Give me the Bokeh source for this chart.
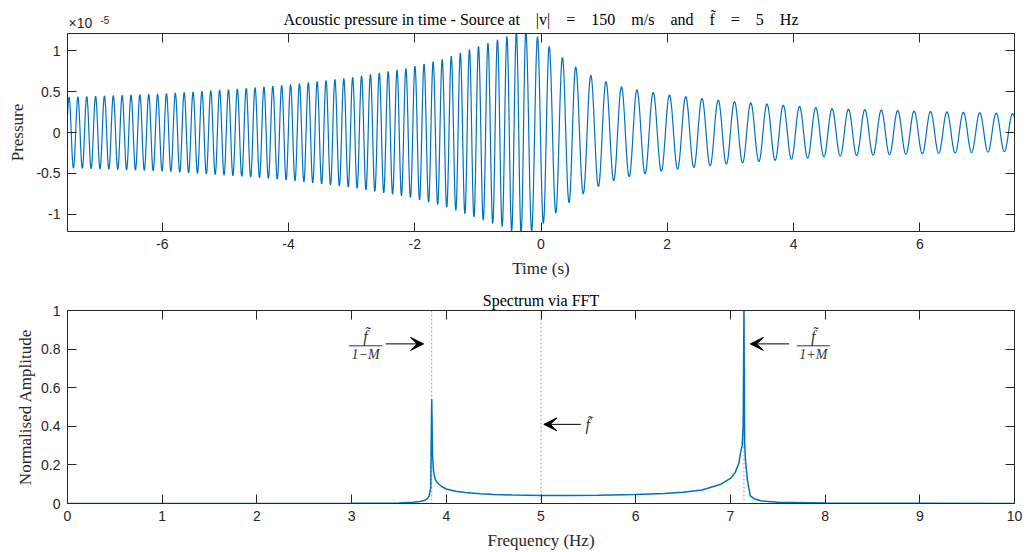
import numpy as np
from bokeh.plotting import figure
from bokeh.layouts import column
from bokeh.models import (Range1d, FixedTicker, LinearAxis, Label, Span, Arrow,
                          VeeHead, CustomJSTickFormatter)
from bokeh.embed import file_html
from bokeh.resources import INLINE

# ---------------- data ----------------
# Top panel: times (s) of selected pressure maxima and their cycle count
peak_times = [-7.476, -4.81, -2.14, -0.99, -0.24, 0.13, 0.55, 1.03, 1.52, 4.61, 7.47]
peak_cycle = [0, 19, 38, 46, 51, 53, 55, 57, 59, 71, 82]
# envelope of the pressure oscillation (x1e-5)
env_times = [-7.5, -6.0, -4.8, -4.0, -3.0, -2.14, -1.57, -0.99, -0.54, -0.39, -0.24,
             -0.06, 0.13, 0.33, 0.55, 0.78, 1.03, 1.26, 1.52, 2.0, 3.0, 4.6, 6.0, 7.5]
env_amps = [0.43, 0.47, 0.53, 0.58, 0.67, 0.78, 0.89, 1.05, 1.17, 1.23, 1.23,
            1.17, 1.05, 0.92, 0.80, 0.70, 0.62, 0.56, 0.52, 0.46, 0.38, 0.29, 0.26, 0.23]

# Bottom panel: normalised spectrum
spec_freq = [0.0, 2.0, 3.0, 3.5, 3.65, 3.72, 3.77, 3.80, 3.82, 3.835, 3.846, 3.855, 3.865,
             3.88, 3.90, 3.95, 4.0, 4.1, 4.2, 4.36, 4.5, 4.7, 5.0, 5.3, 5.6, 6.0, 6.3,
             6.5, 6.7, 6.9, 7.0, 7.05, 7.09, 7.11, 7.125, 7.135, 7.143, 7.15, 7.16,
             7.18, 7.21, 7.25, 7.32, 7.5, 8.0, 9.0, 10.0]
spec_amp = [0.0, 0.0005, 0.001, 0.003, 0.006, 0.010, 0.016, 0.025, 0.04, 0.08, 0.54, 0.25, 0.17,
            0.13, 0.11, 0.088, 0.075, 0.064, 0.057, 0.050, 0.047, 0.044, 0.042, 0.042, 0.043, 0.046, 0.052,
            0.058, 0.070, 0.10, 0.13, 0.16, 0.21, 0.27, 0.30, 0.41, 1.0, 0.32, 0.22,
            0.12, 0.04, 0.025, 0.014, 0.006, 0.002, 0.001, 0.0005]
marker_freqs = [3.846, 5.0, 7.143]

top_xticks = [-6, -4, -2, 0, 2, 4, 6]
top_yticks = [-1, -0.5, 0, 0.5, 1]
bot_xticks = [0, 1, 2, 3, 4, 5, 6, 7, 8, 9, 10]
bot_yticks = [0, 0.2, 0.4, 0.6, 0.8, 1]

# ---------------- build waveform ----------------
t = np.linspace(-7.5, 7.5, 9000)
pt = np.array(peak_times)
pc = np.array(peak_cycle, dtype=float)
cyc = np.interp(t, pt, pc)
lo = t < pt[0]
hi = t > pt[-1]
cyc[lo] = pc[0] + (t[lo] - pt[0]) * (pc[1] - pc[0]) / (pt[1] - pt[0])
cyc[hi] = pc[-1] + (t[hi] - pt[-1]) * (pc[-1] - pc[-2]) / (pt[-1] - pt[-2])
env = np.interp(t, env_times, env_amps)
pressure = env * np.cos(2 * np.pi * cyc)

BLUE = "#0072BD"
AX = "#262626"
SERIF = "Liberation Serif"
SANS = "Liberation Sans"
EM = "\u2003"
fmt = CustomJSTickFormatter(code="return tick.toString();")


def style_axis(ax, ticks, labels=True):
    ax.ticker = FixedTicker(ticks=ticks)
    ax.axis_line_color = AX
    ax.axis_line_width = 1
    ax.major_tick_line_color = AX
    ax.major_tick_in = 9
    ax.major_tick_out = 0
    ax.minor_tick_line_color = None
    if labels:
        ax.formatter = fmt
        ax.major_label_text_font = SANS
        ax.major_label_text_font_size = "14px"
        ax.major_label_text_color = AX
        ax.major_label_standoff = 7
        ax.axis_label_text_font = SERIF
        ax.axis_label_text_font_style = "normal"
        ax.axis_label_text_font_size = "17px"
        ax.axis_label_text_color = AX
    else:
        ax.major_label_text_font_size = "0px"
        ax.major_label_text_color = None
        ax.major_label_standoff = 0
        ax.axis_label = None


def make_fig(xr, yr, height, top, bottom, title, xlabel, ylabel, xt, yt, ystand):
    p = figure(width=1030, height=height, x_range=xr, y_range=yr,
               output_backend="svg", toolbar_location=None,
               min_border_left=67, min_border_right=16,
               min_border_top=top, min_border_bottom=bottom)
    p.outline_line_color = None
    p.grid.visible = False
    p.background_fill_color = "white"
    p.border_fill_color = "white"
    if title:
        p.title.text = title
        p.title.text_font = SERIF
        p.title.text_font_style = "normal"
        p.title.text_font_size = "16px"
        p.title.text_color = "black"
        p.title.align = "center"
        p.title.standoff = 4
    else:
        p.title.visible = False
    p.xaxis.axis_label = xlabel
    p.yaxis.axis_label = ylabel
    style_axis(p.xaxis[0], xt)
    style_axis(p.yaxis[0], yt)
    p.xaxis.axis_label_standoff = 7
    p.yaxis.axis_label_standoff = ystand
    ta = LinearAxis()
    ra = LinearAxis()
    style_axis(ta, xt, labels=False)
    style_axis(ra, yt, labels=False)
    p.add_layout(ta, "above")
    p.add_layout(ra, "right")
    return p


# ---------------- header strip (title and axis exponent of the top panel) ----------------
time_range = Range1d(-7.5, 7.5)
hdr = figure(width=1030, height=33, x_range=time_range, y_range=Range1d(0, 33),
             x_axis_type=None, y_axis_type=None,
             output_backend="svg", toolbar_location=None,
             min_border_left=67, min_border_right=16, min_border_top=0, min_border_bottom=0)
hdr.grid.visible = False
hdr.outline_line_color = None
hdr.title.visible = False
title_top = ("Acoustic pressure in time - Source at" + EM + "|v|" + EM + "=" + EM + "150"
             + EM + "m/s" + EM + "and" + EM + "f\u0303" + EM + "=" + EM + "5" + EM + "Hz")
hdr.add_layout(Label(x=0, y=14, text=title_top, text_font=SERIF, text_font_size="16px",
                     text_color="black", text_align="center", text_baseline="middle"))
hdr.add_layout(Label(x=-7.5, y=3, text="\u00d710", text_font=SANS, text_font_size="14px",
                     text_color=AX, text_baseline="bottom", x_offset=1))
hdr.add_layout(Label(x=-7.5, y=10, text="-5", text_font=SANS, text_font_size="10px",
                     text_color=AX, text_baseline="bottom", x_offset=33))

# ---------------- top figure ----------------
p1 = make_fig(time_range, Range1d(-1.21, 1.21), 247, 0, 48, None,
              "Time (s)", "Pressure", top_xticks, top_yticks, 6)
p1.line(t, pressure, color=BLUE, line_width=1.2)

# ---------------- bottom figure ----------------
p2 = make_fig(Range1d(0, 10), Range1d(0, 1), 272, 30, 45, "Spectrum via FFT",
              "Frequency (Hz)", "Normalised Amplitude", bot_xticks, bot_yticks, 3)
for f in marker_freqs:
    p2.add_layout(Span(location=f, dimension="height", line_color="#a0a0a0",
                       line_dash="2 2", line_width=1, level="underlay"))
p2.line(spec_freq, spec_amp, color=BLUE, line_width=1.5)


def head():
    return VeeHead(size=13, fill_color="black", line_color="black", line_width=1)


p2.add_layout(Arrow(x_start=3.36, y_start=0.827, x_end=3.76, y_end=0.827, end=head(),
                    line_color="black", line_width=1))
p2.add_layout(Arrow(x_start=7.62, y_start=0.827, x_end=7.21, y_end=0.827, end=head(),
                    line_color="black", line_width=1))
p2.add_layout(Arrow(x_start=5.42, y_start=0.41, x_end=5.03, y_end=0.41, end=head(),
                    line_color="black", line_width=1))


def fraction(xc, yb, den):
    p2.add_layout(Label(x=xc, y=yb, text="f\u0303", text_font=SERIF, text_font_style="italic",
                        text_font_size="16px", text_color="#333333", text_align="center",
                        text_baseline="bottom", y_offset=1))
    p2.add_layout(Arrow(x_start=xc - 0.175, y_start=yb, x_end=xc + 0.175, y_end=yb,
                        start=None, end=None, line_color="#333333", line_width=1))
    p2.add_layout(Label(x=xc, y=yb, text=den, text_font=SERIF, text_font_style="italic",
                        text_font_size="14px", text_color="#333333", text_align="center",
                        text_baseline="top", y_offset=-1))


fraction(3.147, 0.817, "1\u2212M")
fraction(7.875, 0.817, "1+M")
p2.add_layout(Label(x=5.47, y=0.41, text="f\u0303", text_font=SERIF, text_font_style="italic",
                    text_font_size="16px", text_color="#333333", text_align="left",
                    text_baseline="middle"))

layout = column(hdr, p1, p2)
open("out.html", "w").write(file_html(layout, INLINE))
